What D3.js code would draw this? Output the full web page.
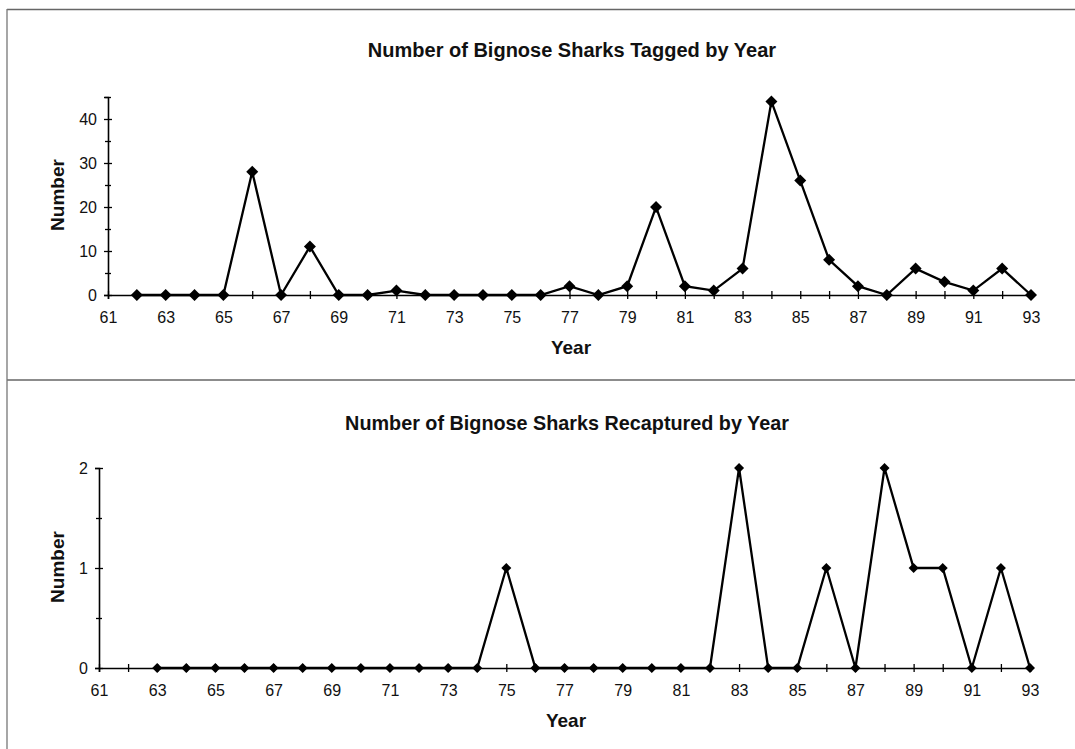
<!DOCTYPE html>
<html>
<head>
<meta charset="utf-8">
<script src="https://cdn.jsdelivr.net/npm/d3@7"></script>
<style>
  html, body { margin: 0; padding: 0; background: #fff; }
  svg { display: block; }
  text { font-family: "Liberation Sans", Arial, sans-serif; fill: #111; }
</style>
</head>
<body>
<svg id="chart" width="1075" height="749"></svg>
<script>
// ---- Data ----
const tickYears = d3.range(61, 94);               // 61..93
const tickLabelYears = d3.range(61, 94, 2);       // 61,63,...,93

const taggedYears = d3.range(62, 94);             // 62..93
const taggedValues = [0, 0, 0, 0, 28, 0, 11, 0, 0, 1, 0, 0, 0, 0, 0, 2, 0, 2, 20, 2, 1, 6, 44, 26, 8, 2, 0, 6, 3, 1, 6, 0];
const taggedYTicks = [0, 10, 20, 30, 40];
const taggedYMinor = [5, 15, 25, 35, 45];

const recapYears = d3.range(63, 94);              // 63..93
const recapValues = [0, 0, 0, 0, 0, 0, 0, 0, 0, 0, 0, 0, 1, 0, 0, 0, 0, 0, 0, 0, 2, 0, 0, 1, 0, 2, 1, 1, 0, 1, 0];
const recapYTicks = [0, 1, 2];
const recapYMinor = [0.5, 1.5];

const titles = ["Number of Bignose Sharks Tagged by Year", "Number of Bignose Sharks Recaptured by Year"];
const xTitle = "Year";
const yTitle = "Number";

// ---- Drawing ----
const svg = d3.select("#chart");

// frame lines
svg.append("line").attr("x1", 7).attr("x2", 1075).attr("y1", 9.5).attr("y2", 9.5)
  .attr("stroke", "#666").attr("stroke-width", 1.3);
svg.append("line").attr("x1", 7).attr("x2", 1075).attr("y1", 380).attr("y2", 380)
  .attr("stroke", "#666").attr("stroke-width", 1.3);
svg.append("line").attr("x1", 7).attr("x2", 7).attr("y1", 9).attr("y2", 749)
  .attr("stroke", "#777").attr("stroke-width", 1.3);

function diamond(r) {
  return `M0,${-r}L${r},0L0,${r}L${-r},0Z`;
}

const FONT = "Liberation Sans, Arial, sans-serif";

function panel(cfg) {
  const g = svg.append("g");
  const x = d3.scaleLinear().domain([61, 93]).range([cfg.left, cfg.right]);
  const y = d3.scaleLinear().domain([0, cfg.yMax]).range([cfg.bottom, cfg.top]);

  // title
  g.append("text").attr("x", cfg.titleX).attr("y", cfg.titleY)
    .attr("text-anchor", "middle").style("font-size", cfg.titleSize).style("font-weight", "bold")
    .text(cfg.title);

  // x axis
  const xa = g.append("g").attr("transform", `translate(0,${cfg.bottom})`)
    .call(d3.axisBottom(x).tickValues(tickYears).tickSize(4).tickPadding(13)
      .tickFormat(d => tickLabelYears.includes(d) ? String(d) : ""));
  xa.attr("font-size", null).attr("font-family", null);
  xa.select(".domain").attr("stroke", "#000").attr("stroke-width", 1.6);
  xa.selectAll(".tick line").attr("y1", -4).attr("stroke", "#000").attr("stroke-width", 1.3);
  xa.selectAll(".tick text").style("font-size", "16px").style("font-family", FONT).attr("fill", "#111");

  // y axis (major)
  const ya = g.append("g").attr("transform", `translate(${cfg.left},0)`)
    .call(d3.axisLeft(y).tickValues(cfg.yTicks).tickSize(4).tickPadding(7).tickFormat(d3.format("d")));
  ya.attr("font-size", null).attr("font-family", null);
  ya.select(".domain").attr("stroke", "#000").attr("stroke-width", 1.6);
  ya.selectAll(".tick line").attr("x1", 4).attr("stroke", "#000").attr("stroke-width", 1.3);
  ya.selectAll(".tick text").style("font-size", "16px").style("font-family", FONT).attr("fill", "#111");

  // y axis (minor)
  const ym = g.append("g").attr("transform", `translate(${cfg.left},0)`)
    .call(d3.axisLeft(y).tickValues(cfg.yMinor).tickSize(3).tickFormat(""));
  ym.select(".domain").remove();
  ym.selectAll(".tick line").attr("x1", 3).attr("stroke", "#000").attr("stroke-width", 1.3);

  // axis titles
  g.append("text").attr("x", cfg.xTitleX).attr("y", cfg.xTitleY)
    .attr("text-anchor", "middle").style("font-size", "19px").style("font-weight", "bold").text(xTitle);
  g.append("text").attr("transform", `translate(${cfg.yTitleX},${cfg.yTitleY}) rotate(-90)`)
    .attr("text-anchor", "middle").style("font-size", "19px").style("font-weight", "bold").text(yTitle);

  // line
  const pts = cfg.years.map((yr, i) => [yr, cfg.values[i]]);
  g.append("path").datum(pts)
    .attr("fill", "none").attr("stroke", "#000").attr("stroke-width", 2.3)
    .attr("stroke-linejoin", "miter")
    .attr("d", d3.line().x(d => x(d[0])).y(d => y(d[1])));

  // markers
  g.selectAll("path.mk").data(pts).enter().append("path").attr("class", "mk")
    .attr("transform", d => `translate(${x(d[0])},${y(d[1])})`)
    .attr("d", diamond(cfg.mr)).attr("fill", "#000");
}

panel({
  title: titles[0], titleX: 572, titleY: 57, titleSize: "20px",
  left: 108, right: 1031, top: 97, bottom: 295, yMax: 45,
  yTicks: taggedYTicks, yMinor: taggedYMinor,
  years: taggedYears, values: taggedValues, mr: 6,
  xTitleX: 571, xTitleY: 354, yTitleX: 64, yTitleY: 195
});

panel({
  title: titles[1], titleX: 567, titleY: 430, titleSize: "19.8px",
  left: 99, right: 1030, top: 468, bottom: 668, yMax: 2,
  yTicks: recapYTicks, yMinor: recapYMinor,
  years: recapYears, values: recapValues, mr: 5,
  xTitleX: 566, xTitleY: 727, yTitleX: 64, yTitleY: 567
});
</script>
</body>
</html>
